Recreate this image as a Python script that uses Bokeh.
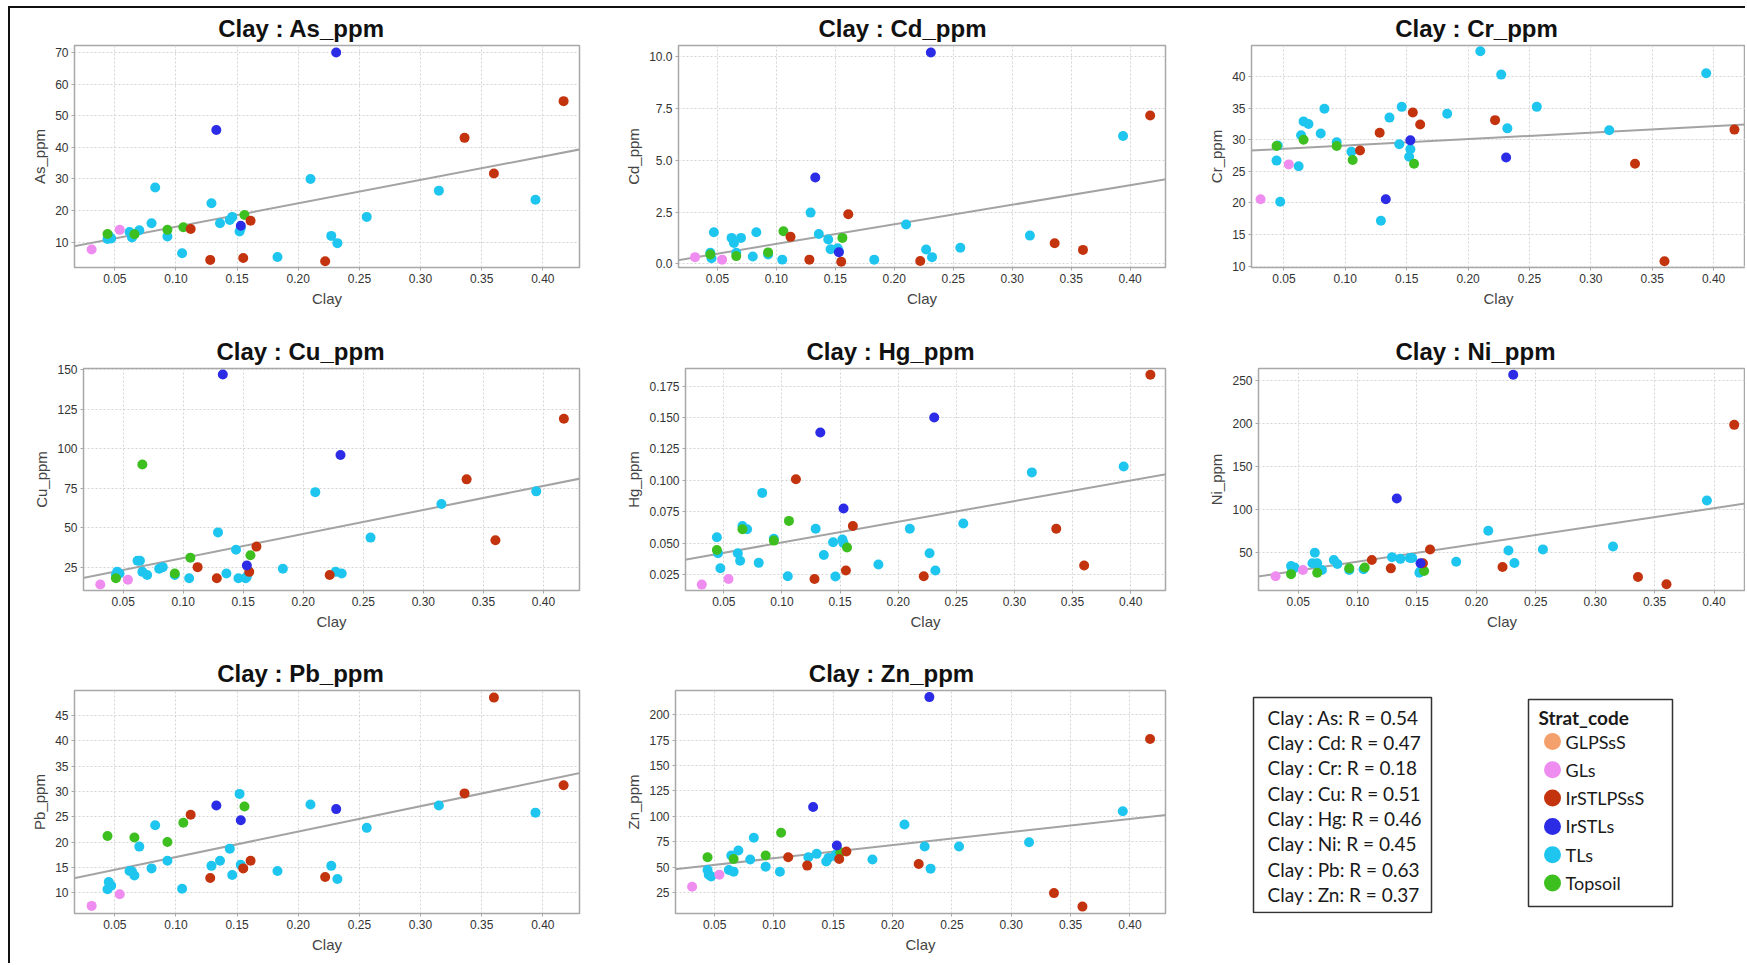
from bokeh.plotting import figure
from bokeh.models import Range1d, FixedTicker, NumeralTickFormatter, Slope, ColumnDataSource
from bokeh.transform import factor_cmap
from bokeh.layouts import row, column
from bokeh.embed import file_html
from bokeh.resources import INLINE
from bokeh.core.properties import value

# ---------------- data ----------------
categories = ["GLPSsS", "GLs", "IrSTLPSsS", "IrSTLs", "TLs", "Topsoil"]
cat_colors = ["#f4a06c", "#ef8cf0", "#c3340e", "#2c2ce6", "#1ec6ef", "#3dbf20"]

strat = (["TLs"] * 24 + ["GLs"] * 2 + ["Topsoil"] * 5 + ["IrSTLPSsS"] * 8 + ["IrSTLs"] * 3)

clay = [0.044, 0.045, 0.047, 0.062, 0.064, 0.066, 0.070, 0.080, 0.083, 0.093, 0.105, 0.129,
        0.136, 0.144, 0.146, 0.152, 0.153, 0.183, 0.210, 0.227, 0.232, 0.256, 0.315, 0.394,
        0.031, 0.054,
        0.044, 0.066, 0.093, 0.106, 0.156,
        0.112, 0.128, 0.155, 0.161, 0.222, 0.336, 0.360, 0.417,
        0.133, 0.153, 0.231]

as_ppm = [11.0, 12.0, 11.2, 13.2, 11.5, 12.5, 13.8, 16.0, 27.3, 11.8, 6.5, 22.3,
          16.0, 17.0, 18.0, 13.4, 14.5, 5.3, 30.0, 12.0, 9.7, 18.0, 26.3, 23.4,
          7.7, 13.9,
          12.6, 12.5, 13.9, 14.7, 18.6,
          14.2, 4.4, 5.0, 16.8, 4.0, 43.0, 31.7, 54.6,
          45.5, 15.2, 70.0]

cd_ppm = [0.53, 0.27, 1.52, 1.25, 1.00, 0.53, 1.25, 0.35, 1.52, 0.45, 0.20, 2.47,
          1.44, 1.17, 0.70, 0.75, 0.60, 0.20, 1.90, 0.69, 0.32, 0.77, 1.36, 6.17,
          0.32, 0.20,
          0.45, 0.37, 0.55, 1.57, 1.25,
          1.30, 0.20, 0.10, 2.39, 0.13, 0.99, 0.67, 7.16,
          4.17, 0.56, 10.2]

cr_ppm = [26.7, 29.1, 20.2, 25.8, 30.7, 32.9, 32.5, 31.0, 34.9, 29.6, 28.1, 17.2,
          33.5, 29.3, 35.2, 27.3, 28.5, 34.1, 44.0, 40.3, 31.8, 35.2, 31.5, 40.5,
          20.6, 26.1,
          29.0, 30.0, 29.0, 26.8, 26.2,
          28.3, 31.1, 34.3, 32.4, 33.1, 26.2, 10.8, 31.6,
          20.6, 29.9, 27.2]

cu_ppm = [20, 22, 21, 29, 29, 22, 20, 24, 25, 20, 18, 47,
          21, 36, 18, 18, 19, 24, 72.5, 22, 21, 43.7, 65, 73,
          14, 17,
          18, 90, 21, 31, 32.5,
          25, 18, 22, 38, 20, 80.6, 42, 119,
          147, 26, 96]

hg_ppm = [0.0547, 0.042, 0.030, 0.042, 0.036, 0.0637, 0.061, 0.0343, 0.090, 0.0534, 0.0237, 0.0614,
          0.0406, 0.0507, 0.0234, 0.0528, 0.050, 0.033, 0.0614, 0.042, 0.0282, 0.0656, 0.1063, 0.111,
          0.017, 0.0215,
          0.0445, 0.061, 0.052, 0.0677, 0.0465,
          0.1009, 0.0215, 0.0282, 0.0636, 0.0237, 0.0614, 0.0322, 0.184,
          0.138, 0.0776, 0.150]

ni_ppm = [34.6, 30, 33, 38, 50, 38, 30, 41.6, 37, 30, 31, 45,
          43, 44, 44, 27, 29, 39.7, 75.7, 52.7, 38.3, 54, 57.3, 110.7,
          22.8, 30,
          25.3, 26.8, 32, 33, 29,
          41.6, 32, 38, 53.8, 33.5, 22, 13.5, 198.5,
          113, 38, 256.6]

pb_ppm = [10.7, 12.1, 11.4, 14.3, 14.2, 13.4, 19.1, 14.8, 23.3, 16.3, 10.8, 15.3,
          16.3, 18.7, 13.5, 29.5, 15.5, 14.3, 27.4, 15.3, 12.7, 22.8, 27.2, 25.8,
          7.4, 9.7,
          21.2, 20.9, 20.0, 23.8, 27.0,
          25.4, 12.9, 14.8, 16.3, 13.1, 29.6, 48.5, 31.2,
          27.2, 24.3, 26.5]

zn_ppm = [47, 42.5, 40.6, 47, 61.3, 45.4, 66.3, 57.4, 78.8, 50.4, 45.4, 59.7,
          63, 55.4, 59, 62, 60, 57.4, 92, 70.2, 48.4, 70.2, 74.5, 104.9,
          30.6, 42.5,
          59.7, 58, 61.3, 83.8, 64.6,
          59.7, 51.4, 58, 65.3, 53, 24.3, 11, 176.2,
          109.2, 71.2, 217.5]

elements = ["As", "Cd", "Cr", "Cu", "Hg", "Ni", "Pb", "Zn"]
element_values = [as_ppm, cd_ppm, cr_ppm, cu_ppm, hg_ppm, ni_ppm, pb_ppm, zn_ppm]
r_values = [0.54, 0.47, 0.18, 0.51, 0.46, 0.45, 0.63, 0.37]
fit_slope = [74.07, 9.45, 10.24, 152.2, 0.1645, 206.7, 50.1, 129.3]
fit_intercept = [7.47, 0.015, 28.05, 15.55, 0.0341, 19.1, 12.04, 45.7]

x_ticks = [0.05, 0.10, 0.15, 0.20, 0.25, 0.30, 0.35, 0.40]
y_ticks = {
    "As": [10, 20, 30, 40, 50, 60, 70],
    "Cd": [0.0, 2.5, 5.0, 7.5, 10.0],
    "Cr": [10, 15, 20, 25, 30, 35, 40],
    "Cu": [25, 50, 75, 100, 125, 150],
    "Hg": [0.025, 0.050, 0.075, 0.100, 0.125, 0.150, 0.175],
    "Ni": [50, 100, 150, 200, 250],
    "Pb": [10, 15, 20, 25, 30, 35, 40, 45],
    "Zn": [25, 50, 75, 100, 125, 150, 175, 200],
}
y_fmt = {"As": "0", "Cd": "0.0", "Cr": "0", "Cu": "0", "Hg": "0.000", "Ni": "0", "Pb": "0", "Zn": "0"}

# ---------------- layout (pixels / axis extents) ----------------
col_x = [10, 622, 1205]
col_w = [612, 583, 540]
row_y = [8, 320, 640]
row_h = [312, 320, 323]
frame_top = [44, 368, 690]
frame_bottom = [267, 590, 913]
frame_right = [579, 1165, 1745]

panel = {
    "As": dict(c=0, r=0, fl=74, cx=301, xr=(0.017, 0.430), yr=(2.0, 72.2)),
    "Cd": dict(c=1, r=0, fl=661, cx=885, xr=(0.017, 0.430), yr=(-0.18, 10.54)),
    "Cr": dict(c=2, r=0, fl=1246, cx=1471, xr=(0.0236, 0.426), yr=(9.8, 44.9)),
    "Cu": dict(c=0, r=1, fl=83, cx=300, xr=(0.017, 0.430), yr=(10.2, 150.8)),
    "Hg": dict(c=1, r=1, fl=680, cx=885, xr=(0.017, 0.430), yr=(0.0123, 0.189)),
    "Ni": dict(c=2, r=1, fl=1254, cx=1471, xr=(0.0166, 0.4265), yr=(6.3, 263.9)),
    "Pb": dict(c=0, r=2, fl=74, cx=300, xr=(0.017, 0.430), yr=(5.9, 49.9)),
    "Zn": dict(c=1, r=2, fl=669, cx=885, xr=(0.017, 0.430), yr=(4.2, 224.0)),
}

TITLE_PX = 24
ARIAL_BOLD = {'C': 722, 'l': 278, 'a': 556, 'y': 556, ' ': 278, ':': 333, 'A': 722, 's': 556,
              '_': 556, 'p': 611, 'm': 889, 'd': 611, 'r': 389, 'u': 611, 'H': 722, 'g': 611,
              'N': 722, 'i': 278, 'P': 667, 'b': 611, 'Z': 611, 'n': 611}


def text_w(t):
    return sum(ARIAL_BOLD.get(ch, 600) for ch in t) / 1000.0 * TITLE_PX


def make_panel(i):
    el = elements[i]
    L = panel[el]
    c, r = L["c"], L["r"]
    title = f"Clay : {el}_ppm"
    p = figure(width=col_w[c], height=row_h[r],
               x_range=Range1d(*L["xr"]), y_range=Range1d(*L["yr"]),
               output_backend="svg", toolbar_location=None, title=title,
               min_border_left=L["fl"] - col_x[c],
               min_border_right=col_x[c] + col_w[c] - frame_right[c],
               min_border_top=frame_top[r] - row_y[r],
               min_border_bottom=row_y[r] + row_h[r] - frame_bottom[r])
    p.title.align = "left"
    p.title.offset = L["cx"] - text_w(title) / 2 - L["fl"]
    p.title.text_font = "Liberation Sans"
    p.title.text_font_size = f"{TITLE_PX}px"
    p.title.text_font_style = "bold"
    p.title.text_color = "#111111"
    p.title.standoff = 8

    p.xaxis.ticker = FixedTicker(ticks=x_ticks)
    p.xaxis.formatter = NumeralTickFormatter(format="0.00")
    p.yaxis.ticker = FixedTicker(ticks=y_ticks[el])
    p.yaxis.formatter = NumeralTickFormatter(format=y_fmt[el])
    p.xaxis.axis_label = "Clay"
    p.yaxis.axis_label = f"{el}_ppm"
    for ax in (p.xaxis, p.yaxis):
        ax.axis_label_text_font = "Liberation Sans"
        ax.axis_label_text_font_size = "15px"
        ax.axis_label_text_font_style = "normal"
        ax.axis_label_text_color = "#444444"
        ax.major_label_text_font = "Liberation Sans"
        ax.major_label_text_font_size = "12px"
        ax.major_label_text_color = "#333333"
        ax.axis_line_color = "#a8a8a8"
        ax.major_tick_line_color = "#a8a8a8"
        ax.major_tick_out = 3
        ax.major_tick_in = 0
        ax.minor_tick_line_color = None
        ax.major_label_standoff = 3
        ax.axis_label_standoff = 4
    p.grid.grid_line_color = "#d4d4d4"
    p.grid.grid_line_dash = "2 2"
    p.grid.grid_line_width = 1
    p.outline_line_color = "#a8a8a8"
    p.outline_line_width = 1.5
    p.background_fill_color = "white"

    p.add_layout(Slope(gradient=fit_slope[i], y_intercept=fit_intercept[i],
                       line_color="#a3a3a3", line_width=2, level="underlay"))

    src = ColumnDataSource(dict(clay=clay, strat=strat, val=element_values[i]))
    p.scatter("clay", "val", source=src, size=10, line_color=None,
              fill_color=factor_cmap("strat", cat_colors, categories))
    return p


plots = [make_panel(i) for i in range(len(elements))]

# ---------------- info panel: R box and legend ----------------
# local pixel coordinates inside the third cell of the bottom row (y grows downwards)
W, H = col_w[2], row_h[2]
ft_loc = frame_top[2] - row_y[2]
fb_loc = frame_bottom[2] - row_y[2]
info = figure(width=W, height=H, x_range=Range1d(0, W), y_range=Range1d(fb_loc, ft_loc),
              output_backend="svg", toolbar_location=None,
              x_axis_location=None, y_axis_location=None,
              min_border_left=0, min_border_right=0,
              min_border_top=ft_loc, min_border_bottom=H - fb_loc)
info.grid.visible = False
info.outline_line_color = None

rbox = dict(left=48, right=226, top=57, bottom=272, text_x=62, first_y=76.7, step=25.3)
info.quad(left=[rbox["left"]], right=[rbox["right"]], top=[rbox["top"]], bottom=[rbox["bottom"]],
          fill_color=None, line_color="#333333", line_width=1.5)
r_labels = [f"Clay : {el}: R = {rv:.2f}" for el, rv in zip(elements, r_values)]
info.text(x=[rbox["text_x"]] * len(r_labels),
          y=[rbox["first_y"] + k * rbox["step"] for k in range(len(r_labels))],
          text=r_labels, text_font=value("Lato"), text_font_size="19px",
          text_baseline="middle", text_align="left", text_color="#1a1a1a")

lbox = dict(left=323, right=467, top=59, bottom=266, title_x=333, title_y=77,
            mark_x=347, text_x=360, first_y=101, step=28.3)
info.quad(left=[lbox["left"]], right=[lbox["right"]], top=[lbox["top"]], bottom=[lbox["bottom"]],
          fill_color=None, line_color="#333333", line_width=1.5)
info.text(x=[lbox["title_x"]], y=[lbox["title_y"]], text=["Strat_code"],
          text_font=value("Lato"), text_font_size="19px", text_font_style="bold",
          text_baseline="middle", text_align="left", text_color="#1a1a1a")
leg_y = [lbox["first_y"] + k * lbox["step"] for k in range(len(categories))]
info.scatter(x=[lbox["mark_x"]] * len(categories), y=leg_y, size=17,
             fill_color=cat_colors, line_color=None)
info.text(x=[lbox["text_x"]] * len(categories), y=leg_y, text=categories,
          text_font=value("Lato"), text_font_size="18px",
          text_baseline="middle", text_align="left", text_color="#1a1a1a")

grid = column(row(plots[0], plots[1], plots[2]),
              row(plots[3], plots[4], plots[5]),
              row(plots[6], plots[7], info),
              styles={"margin-left": "8px", "margin-top": "6px",
                      "border-left": "2px solid #111111", "border-top": "2px solid #111111"})

open("out.html", "w").write(file_html(grid, INLINE, title="Clay correlations"))
